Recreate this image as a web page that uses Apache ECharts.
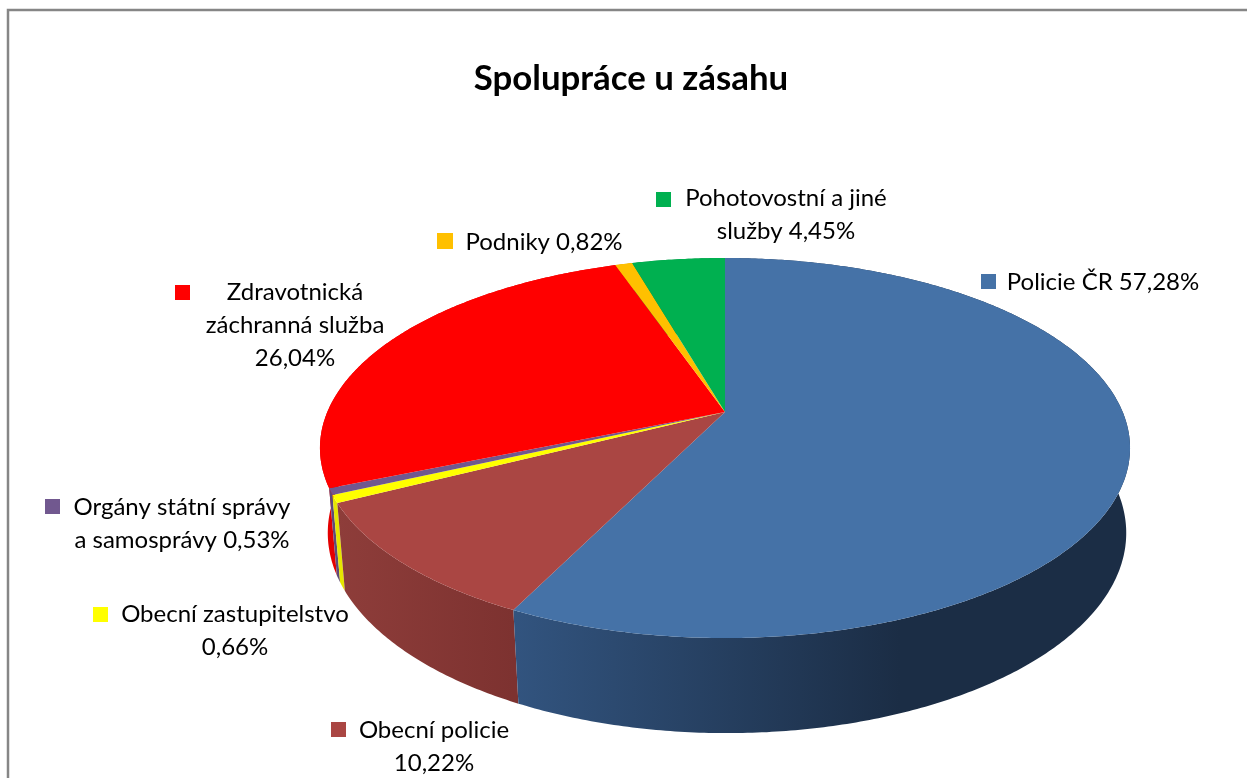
<!DOCTYPE html>
<html>
<head>
<meta charset="utf-8">
<style>
    html, body { margin: 0; padding: 0; background: #fff; }
    #chart { width: 1247px; height: 778px; }
</style>
</head>
<body>
<div id="chart"></div>
<script src="https://cdn.jsdelivr.net/npm/echarts@6/dist/echarts.min.js"></script>
<script>
const titleText = 'Spolupráce u zásahu';
const categories = ['Policie ČR', 'Obecní policie', 'Obecní zastupitelstvo', 'Orgány státní správy a samosprávy', 'Zdravotnická záchranná služba', 'Podniky', 'Pohotovostní a jiné služby'];
const values = [57.28, 10.22, 0.66, 0.53, 26.04, 0.82, 4.45];
const labelTexts = [
    'Policie ČR 57,28%',
    'Obecní policie\n10,22%',
    'Obecní zastupitelstvo\n0,66%',
    'Orgány státní správy\na samosprávy 0,53%',
    'Zdravotnická\nzáchranná služba\n26,04%',
    'Podniky 0,82%',
    'Pohotovostní a jiné\nslužby 4,45%'
];
const topColors = ['#4572A7', '#AA4643', '#FFFF00', '#71588F', '#FF0000', '#FFC000', '#00B050'];
const wallColors = [['#32547f', '#1b2d45'], ['#8e3d3a', '#7d3230'], ['#e6e600', '#e6e600'], ['#5e4a78', '#5e4a78'], ['#e40000', '#e40000'], ['#d9a300', '#d9a300'], ['#009040', '#009040']];

/*pie geometry: a tilted circle, back of the disc is foreshortened*/
const k = 0.1895;
const topRim = { cx: 725, cy: 412, a: 397.7, b: 183.2 };
const bottomRim = { cx: 727, cy: 495, a: 392, b: 193 };

/*legend key position and centre of the text block of each label*/
const labelLayout = [
    { keyX: 981, keyY: 274, keySize: 15, textX: 1103, textY: 282 },
    { keyX: 331, keyY: 722, keySize: 15, textX: 434, textY: 747 },
    { keyX: 93, keyY: 607, keySize: 15, textX: 235, textY: 631 },
    { keyX: 45, keyY: 499, keySize: 15, textX: 182, textY: 524 },
    { keyX: 175, keyY: 285, keySize: 15, textX: 295, textY: 325 },
    { keyX: 437, keyY: 233, keySize: 16, textX: 544, textY: 242 },
    { keyX: 656, keyY: 192, keySize: 15, textX: 786, textY: 215 }
];

const total = values.reduce(function (sum, v) { return sum + v; }, 0);

function sliceRange(idx) {
    let start = 0;
    for (let i = 0; i < idx; i++) start += values[i];
    return [start / total * Math.PI * 2, (start + values[idx]) / total * Math.PI * 2];
}

function rimPoint(theta, rim) {
    const d = 1 + k * Math.cos(theta);
    return [rim.cx + rim.a * Math.sin(theta) / d, rim.cy - rim.b * Math.cos(theta) / d];
}

function rimPoints(range, rim) {
    const steps = Math.max(2, Math.ceil((range[1] - range[0]) / 0.01));
    const points = [];
    for (let i = 0; i <= steps; i++) {
        points.push(rimPoint(range[0] + (range[1] - range[0]) * i / steps, rim));
    }
    return points;
}

function renderWall(params, api) {
    const idx = params.dataIndex;
    const range = sliceRange(idx);
    const top = rimPoints(range, topRim);
    const bottom = rimPoints(range, bottomRim).reverse();
    const xs = top.map(function (p) { return p[0]; });
    const fill = new echarts.graphic.LinearGradient(Math.min.apply(null, xs), 0, Math.min(900, Math.max.apply(null, xs)), 0, [
        { offset: 0, color: wallColors[idx][0] },
        { offset: 1, color: wallColors[idx][1] }
    ], true);

    return {
        type: 'polygon',
        z2: values.length - idx,
        shape: { points: top.concat(bottom) },
        style: { fill: fill }
    };
}

function renderTop(params, api) {
    const idx = params.dataIndex;

    return {
        type: 'polygon',
        shape: { points: [[topRim.cx, topRim.cy]].concat(rimPoints(sliceRange(idx), topRim)) },
        style: { fill: topColors[idx] }
    };
}

function renderLabel(params, api) {
    const idx = params.dataIndex;
    const layout = labelLayout[idx];

    return {
        type: 'group',
        children: [
            {
                type: 'rect',
                shape: { x: layout.keyX, y: layout.keyY, width: layout.keySize, height: layout.keySize },
                style: { fill: topColors[idx] }
            },
            {
                type: 'text',
                x: layout.textX,
                y: layout.textY,
                style: {
                    text: labelTexts[idx],
                    fill: '#000',
                    font: '24px Lato',
                    lineHeight: 33,
                    align: 'center',
                    verticalAlign: 'middle'
                }
            }
        ]
    };
}

const chart = echarts.init(document.getElementById('chart'));
const seriesData = categories.map(function (name, i) {
    return { name: name, value: values[i] };
});

chart.setOption({
    animation: false,
    backgroundColor: '#fff',
    title: {
        text: titleText,
        left: 626,
        top: 56,
        textAlign: 'center',
        textStyle: { fontFamily: 'Lato', fontSize: 34.8, fontWeight: 'bold', color: '#000' }
    },
    graphic: [{
        type: 'rect',
        shape: { x: 8, y: 10, width: 1300, height: 900 },
        style: { fill: 'none', stroke: '#868686', lineWidth: 2.5 }
    }],
    series: [
        { type: 'custom', coordinateSystem: 'none', z: 2, silent: true, data: seriesData, renderItem: renderWall },
        { type: 'custom', coordinateSystem: 'none', z: 3, silent: true, data: seriesData, renderItem: renderTop },
        { type: 'custom', coordinateSystem: 'none', z: 4, silent: true, data: seriesData, renderItem: renderLabel }
    ]
});
</script>
</body>
</html>
